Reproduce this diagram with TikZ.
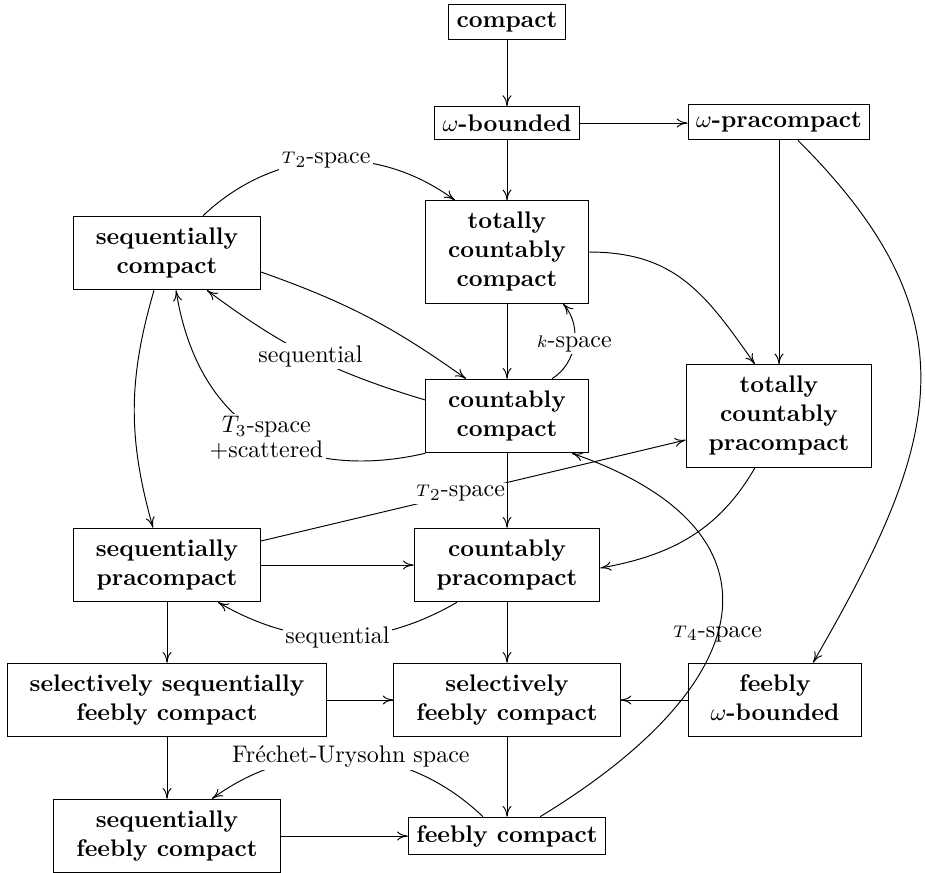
\documentclass[tikz,border=0pt]{standalone}
\usetikzlibrary{calc,arrows.meta}
\begin{document}
\begin{tikzpicture}[x=0.4167pt,y=0.4167pt,
  box/.style={draw,font=\bfseries},
  lbl/.style={fill=white,inner sep=1pt},
  >={To[length=4.5pt,width=3.8pt]}]
\useasboundingbox (0,0) rectangle (925,-872);
\node[box] (c) at (507,-22) {compact};
\node[box] (wb) at (507,-123) {$\omega$-bounded};
\node[box] (wpc) at (779,-122) {$\omega$-pracompact};
\node[box] (tcc) at (507,-252) {\begin{tabular}{c}totally\\countably\\compact\end{tabular}};
\node[box] (sc) at (167,-253) {\begin{tabular}{c}sequentially\\compact\end{tabular}};
\node[box] (cc) at (507,-416) {\begin{tabular}{c}countably\\compact\end{tabular}};
\node[box] (tcp) at (779,-416) {\begin{tabular}{c}totally\\countably\\pracompact\end{tabular}};
\node[box] (sp) at (167,-565) {\begin{tabular}{c}sequentially\\pracompact\end{tabular}};
\node[box] (cp) at (507,-565) {\begin{tabular}{c}countably\\pracompact\end{tabular}};
\node[box] (ssf) at (167,-700) {\begin{tabular}{c}selectively sequentially\\feebly compact\end{tabular}};
\node[box] (sf) at (507,-700) {\begin{tabular}{c}selectively\\feebly compact\end{tabular}};
\node[box] (fwb) at (775,-700) {\begin{tabular}{c}feebly\\$\omega$-bounded\end{tabular}};
\node[box] (sfc) at (167,-836) {\begin{tabular}{c}sequentially\\feebly compact\end{tabular}};
\node[box] (fc) at (507,-836) {feebly compact};

\draw[->] (c) -- (wb);
\draw[->] (wb.east) -- (wb.east -| wpc.west);
\draw[->] (wb) -- (tcc);
\draw[->] ($(sc.north)+(36,0)$) to[bend left=40] node[lbl]{${\scriptstyle T}_2$-space} ($(tcc.north)+(-52,0)$);
\draw[->] ($(sc.east)+(0,-19)$) to[bend left=8] ($(cc.north)+(-41,0)$);
\draw[->] ($(cc.west)+(0,16)$) to[bend left=10] node[lbl]{sequential} ($(sc.south)+(40,0)$);
\draw[->] (cc.south west) .. controls (310,-480) and (200,-440) .. ($(sc.south)+(9,0)$) node[lbl,align=center,pos=0.5]{$T_3$-space\\[-1.5pt]+scattered};
\draw[->] (tcc) -- (cc);
\draw[->] ($(cc.north)+(45,0)$) to[bend right=50] node[lbl]{${\scriptstyle k}$-space} ($(tcc.south)+(56,0)$);
\draw[->] (tcc.east) to[out=0,in=125,looseness=1.1] ($(tcp.north)+(-24,0)$);
\draw[->] (wpc) -- (tcp);
\draw[->] ($(wpc.south)+(19,0)$) .. controls (978,-320) and (940,-443) .. ($(fwb.north)+(38,0)$);
\draw[->] ($(tcp.south)+(-24,0)$) to[out=-120,in=10] ($(cp.east)+(0,-3)$);
\draw[->] ($(sc.south)+(-13,0)$) to[bend right=16] ($(sp.north)+(-14,0)$);
\draw[->] ($(sp.east)+(0,24)$) -- node[lbl,pos=0.47]{${\scriptstyle T}_2$-space} ($(tcp.west)+(0,-24)$);
\draw[->] (cc) -- (cp);
\draw[->] (sp) -- (cp);
\draw[->] ($(cp.south)+(-50,0)$) to[bend left=30] node[lbl]{sequential} ($(sp.south)+(51,0)$);
\draw[->] (sp) -- (ssf);
\draw[->] (cp) -- (sf);
\draw[->] (ssf) -- (sf);
\draw[->] (fwb) -- (sf);
\draw[->] (ssf) -- (sfc);
\draw[->] (sf) -- (fc);
\draw[->] (sfc) -- (fc);
\draw[->] ($(fc.north)+(-24,0)$) to[bend right=40] node[lbl]{Fr\'echet-Urysohn space} ($(sfc.north)+(45,0)$);
\draw[->] ($(fc.north)+(33,0)$) .. controls (770,-677) and (785,-527) .. ($(cc.south)+(65,0)$) node[pos=0.44,inner sep=1pt]{${\scriptstyle T}_4$-space};
\end{tikzpicture}
\end{document}
